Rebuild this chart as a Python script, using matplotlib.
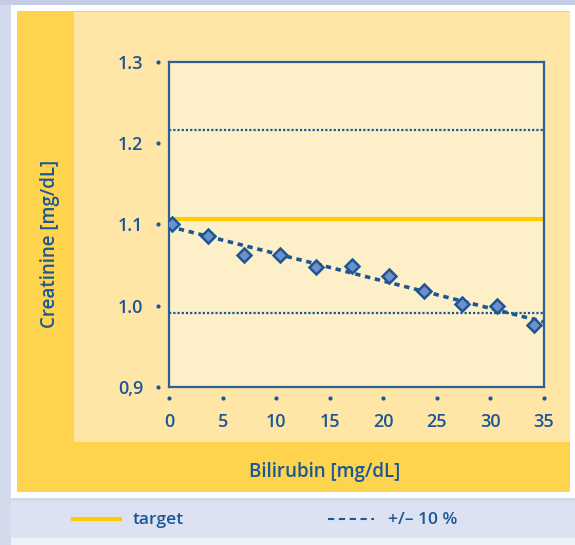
import numpy as np
import matplotlib
matplotlib.use("Agg")
import matplotlib.pyplot as plt
from matplotlib.patches import Rectangle
from matplotlib.lines import Line2D
from matplotlib import transforms

# donnees
bilirubin = [0.25, 3.65, 7.0, 10.4, 13.7, 17.1, 20.5, 23.8, 27.3, 30.6, 34.1]
creatinine = [1.101, 1.086, 1.062, 1.062, 1.048, 1.049, 1.037, 1.018, 1.002, 1.000, 0.976]
target = 1.107
upper = 1.216
lower = 0.991
xticks = [0, 5, 10, 15, 20, 25, 30, 35]
yticks = [0.9, 1.0, 1.1, 1.2, 1.3]
ytick_labels = ["0,9", "1.0", "1.1", "1.2", "1.3"]

BLUE = "#1B5795"
YELLOW = "#FFCC00"
W, H = 575, 545

plt.rcParams['font.family'] = ['Open Sans', 'DejaVu Sans']

fig = plt.figure(figsize=(W / 100, H / 100), dpi=100, facecolor="#D3DAEB")


def rect(x0, y0, x1, y1, color):
    # coordonnees en pixels, origine en haut a gauche
    fig.add_artist(Rectangle((x0 / W, 1 - y1 / H), (x1 - x0) / W, (y1 - y0) / H,
                             transform=fig.transFigure, color=color, lw=0, zorder=-10))


# fond du graphique
rect(0, 0, W, 5, "#C4CDE5")
rect(11, 5, W, 498, "white")
rect(16.5, 11, 569.5, 492, "#FED44F")
rect(74, 12, 569.5, 442, "#FFE6A6")
rect(11, 501, W, 538, "#DCE2F1")
rect(11, 538, W, H, "#EEF1F8")

ax = fig.add_axes([169 / W, 1 - 387 / H, 375 / W, 325 / H])
ax.set_facecolor("#FDEFC8")

ax.axhline(target, color=YELLOW, lw=3, zorder=2)
ax.axhline(upper, color=BLUE, lw=1.6, ls=(0, (1, 0.9)), zorder=2)
ax.axhline(lower, color=BLUE, lw=1.6, ls=(0, (1, 0.9)), zorder=2)

# droite de regression
slope, inter = np.polyfit(bilirubin, creatinine, 1)
xs = np.array([0, 35])
ax.plot(xs, slope * xs + inter, color=BLUE, lw=2.6, ls=(0, (1.5, 1.3)), zorder=3)

ax.plot(bilirubin, creatinine, "D", ms=7, mfc="#6F8FCB", mec=BLUE, mew=1.8, zorder=4)

ax.set_xlim(0, 35)
ax.set_ylim(0.9, 1.3)
ax.set_xticks(xticks)
ax.set_yticks(yticks)
ax.set_yticklabels(ytick_labels)
ax.tick_params(length=0, pad=18.5, labelsize=13, labelcolor=BLUE)
for lab in ax.get_xticklabels() + ax.get_yticklabels():
    lab.set_fontweight(600)
for s in ax.spines.values():
    s.set_color("#2A5F98")
    s.set_linewidth(1.6)

# petits points a la place des ticks
tx = transforms.blended_transform_factory(ax.transData, ax.transAxes) + \
    transforms.ScaledTranslation(0, -11 / 100, fig.dpi_scale_trans)
ax.plot(xticks, [0] * len(xticks), "o", ms=2, color=BLUE, transform=tx, clip_on=False)
ty = transforms.blended_transform_factory(ax.transAxes, ax.transData) + \
    transforms.ScaledTranslation(-11 / 100, 0, fig.dpi_scale_trans)
ax.plot([0] * len(yticks), yticks, "o", ms=2, color=BLUE, transform=ty, clip_on=False)

fig.text(324.5 / W, 1 - 471.5 / H, "Bilirubin [mg/dL]", ha="center", va="center",
         fontsize=13.5, color=BLUE, fontweight=600)
fig.text(50.5 / W, 1 - 244 / H, "Creatinine [mg/dL]", ha="center", va="center",
         rotation=90, fontsize=13.5, color=BLUE, fontweight=600)

# legende
fig.add_artist(Line2D([73 / W, 120 / W], [1 - 519 / H] * 2, color=YELLOW, lw=3,
                      transform=fig.transFigure))
fig.text(133 / W, 1 - 519.5 / H, "target", ha="left", va="center",
         fontsize=12.5, color=BLUE, fontweight=600)
fig.add_artist(Line2D([327.5 / W, 374 / W], [1 - 519 / H] * 2, color=BLUE, lw=1.5,
                      ls=(0, (3, 2.2)), transform=fig.transFigure))
fig.text(387.5 / W, 1 - 519.5 / H, "+/\u2013 10 %", ha="left", va="center",
         fontsize=12.5, color=BLUE, fontweight=600)

fig.savefig("out.png", dpi=100, facecolor=fig.get_facecolor())
